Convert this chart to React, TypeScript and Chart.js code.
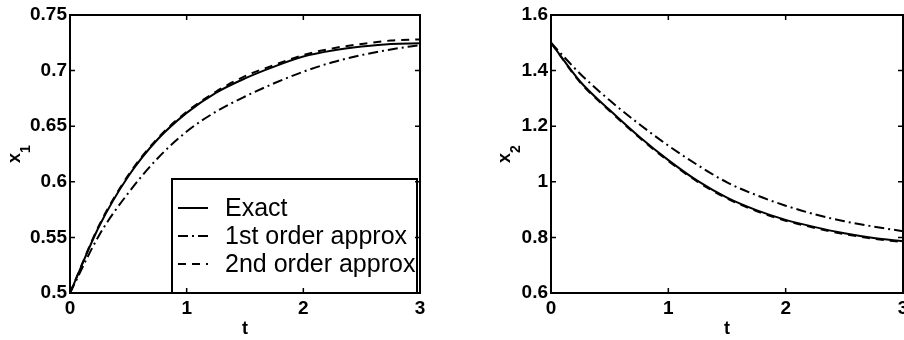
import React, { useEffect, useRef } from "react";
import { Chart, registerables } from "chart.js";
Chart.register(...registerables);

// ---- data ----
const tValues = [0, 0.25, 0.5, 0.75, 1, 1.25, 1.5, 1.75, 2, 2.25, 2.5, 2.75, 3];

const x1Exact = [0.5, 0.56, 0.605, 0.638, 0.662, 0.68, 0.693, 0.7036, 0.7126, 0.718, 0.7216, 0.724, 0.7245];
const x1First = [0.5, 0.552, 0.59, 0.621, 0.6452, 0.663, 0.6767, 0.6886, 0.699, 0.7075, 0.714, 0.719, 0.723];
const x1Second = [0.5, 0.561, 0.606, 0.639, 0.663, 0.681, 0.695, 0.705, 0.714, 0.72, 0.724, 0.727, 0.728];

const x2Exact = [1.5, 1.36, 1.258, 1.163, 1.078, 1.003, 0.943, 0.898, 0.863, 0.837, 0.815, 0.798, 0.786];
const x2First = [1.5, 1.388, 1.293, 1.208, 1.13, 1.06, 0.998, 0.952, 0.914, 0.883, 0.858, 0.839, 0.822];
const x2Second = [1.5, 1.357, 1.255, 1.16, 1.075, 1.0, 0.94, 0.895, 0.86, 0.834, 0.812, 0.795, 0.783];

const x1Ticks = [0.5, 0.55, 0.6, 0.65, 0.7, 0.75];
const x2Ticks = [0.6, 0.8, 1, 1.2, 1.4, 1.6];
const tTicks = [0, 1, 2, 3];

const seriesLabels = ["Exact", "1st order approx", "2nd order approx"];
const yTitleBase = "x";
const yTitleSubs = ["1", "2"];
const xTitle = "t";

const FONT = '"Liberation Sans", Arial, Helvetica, sans-serif';

const framePlugin = {
  id: "frame",
  afterDraw(chart: any) {
    const { ctx, chartArea, scales } = chart;
    const { left, right, top, bottom } = chartArea;
    ctx.save();
    ctx.strokeStyle = "#000";
    ctx.setLineDash([]);
    ctx.lineWidth = 1.5;
    ctx.beginPath();
    scales.x.ticks.forEach((tk: any) => {
      const px = scales.x.getPixelForValue(tk.value);
      ctx.moveTo(px, bottom);
      ctx.lineTo(px, bottom - 5);
      ctx.moveTo(px, top);
      ctx.lineTo(px, top + 5);
    });
    scales.y.ticks.forEach((tk: any) => {
      const py = scales.y.getPixelForValue(tk.value);
      ctx.moveTo(left, py);
      ctx.lineTo(left + 5, py);
      ctx.moveTo(right, py);
      ctx.lineTo(right - 5, py);
    });
    ctx.stroke();
    ctx.lineWidth = 2;
    ctx.strokeRect(left, top, right - left, bottom - top);
    ctx.restore();
  },
};

// y-axis title with a real subscript (x with index), rotated
const yTitlePlugin = {
  id: "yTitle",
  afterDraw(chart: any, _args: any, opts: any) {
    if (!opts || !opts.base) return;
    const { ctx, chartArea } = chart;
    const cx = opts.x;
    const cy = (chartArea.top + chartArea.bottom) / 2 + 4;
    ctx.save();
    ctx.translate(cx, cy);
    ctx.rotate(-Math.PI / 2);
    ctx.fillStyle = "#000";
    ctx.textBaseline = "alphabetic";
    ctx.font = "bold 18px " + FONT;
    ctx.textAlign = "center";
    ctx.fillText(opts.base, 0, 5);
    ctx.textAlign = "left";
    ctx.font = "bold 14px " + FONT;
    ctx.fillText(opts.sub, 5, 15);
    ctx.restore();
  },
};

const boxLegendPlugin = {
  id: "boxLegend",
  afterDatasetsDraw(chart: any, _args: any, opts: any) {
    if (!opts || !opts.show) return;
    const { ctx, chartArea } = chart;
    const w = 245;
    const h = 114;
    const bx = chartArea.right - 3 - w;
    const by = chartArea.bottom - h;
    ctx.save();
    ctx.fillStyle = "#fff";
    ctx.fillRect(bx, by, w, h);
    ctx.strokeStyle = "#000";
    ctx.lineWidth = 2;
    ctx.setLineDash([]);
    ctx.strokeRect(bx, by, w, h);
    ctx.font = "25px " + FONT;
    ctx.textBaseline = "middle";
    ctx.textAlign = "left";
    chart.data.datasets.forEach((ds: any, i: number) => {
      const cy = by + 29 + i * 28;
      ctx.beginPath();
      ctx.setLineDash(ds.borderDash || []);
      ctx.lineWidth = ds.borderWidth;
      ctx.strokeStyle = ds.borderColor;
      ctx.moveTo(bx + 6, cy);
      ctx.lineTo(bx + 36, cy);
      ctx.stroke();
      ctx.setLineDash([]);
      ctx.fillStyle = "#000";
      ctx.fillText(ds.label, bx + 53, cy + 1);
    });
    ctx.restore();
  },
};

function makeConfig(
  series: number[][],
  yTicks: number[],
  ySub: string,
  titleX: number,
  showLegend: boolean,
  padding: { left: number; right: number; top: number; bottom: number },
  yWidth: number
): any {
  const styles = [
    { borderDash: [] as number[] },
    { borderDash: [10, 4, 2, 4] },
    { borderDash: [8, 6] },
  ];
  const tickFont = { family: FONT, size: 19, weight: "bold" };
  return {
    type: "line",
    data: {
      datasets: series.map((vals, i) => ({
        label: seriesLabels[i],
        data: tValues.map((t, j) => ({ x: t, y: vals[j] })),
        borderColor: "#000",
        borderWidth: 2,
        borderDash: styles[i].borderDash,
        pointRadius: 0,
        fill: false,
        cubicInterpolationMode: "monotone",
      })),
    },
    options: {
      responsive: false,
      animation: false,
      layout: { padding },
      plugins: {
        legend: { display: false },
        tooltip: { enabled: false },
        boxLegend: { show: showLegend },
        yTitle: { base: yTitleBase, sub: ySub, x: titleX },
      },
      scales: {
        x: {
          type: "linear",
          min: 0,
          max: 3,
          afterBuildTicks: (scale: any) => {
            scale.ticks = tTicks.map((v) => ({ value: v }));
          },
          afterFit: (scale: any) => {
            scale.height = 47;
          },
          grid: { display: false, drawTicks: false },
          border: { display: false },
          ticks: {
            padding: 4,
            color: "#000",
            font: tickFont,
            callback: (v: any) => String(Number(Number(v).toFixed(2))),
            maxRotation: 0,
          },
          title: {
            display: true,
            text: xTitle,
            color: "#000",
            font: { family: FONT, size: 18, weight: "bold" },
            padding: { top: 0, bottom: 0 },
          },
        },
        y: {
          type: "linear",
          min: yTicks[0],
          max: yTicks[yTicks.length - 1],
          afterBuildTicks: (scale: any) => {
            scale.ticks = yTicks.map((v) => ({ value: v }));
          },
          afterFit: (scale: any) => {
            scale.width = yWidth;
          },
          grid: { display: false, drawTicks: false },
          border: { display: false },
          ticks: {
            padding: 3,
            color: "#000",
            font: tickFont,
            callback: (v: any) => String(Number(Number(v).toFixed(2))),
          },
          title: { display: false },
        },
      },
    },
    plugins: [framePlugin, boxLegendPlugin, yTitlePlugin],
  };
}

export default function App() {
  const leftRef = useRef<HTMLCanvasElement | null>(null);
  const rightRef = useRef<HTMLCanvasElement | null>(null);

  useEffect(() => {
    const c1 = new Chart(
      leftRef.current as HTMLCanvasElement,
      makeConfig([x1Exact, x1First, x1Second], x1Ticks, yTitleSubs[0], 15, true, { left: 30, right: 30, top: 15, bottom: 0 }, 40)
    );
    const c2 = new Chart(
      rightRef.current as HTMLCanvasElement,
      makeConfig([x2Exact, x2First, x2Second], x2Ticks, yTitleSubs[1], 45, false, { left: 60, right: 17, top: 15, bottom: 0 }, 31)
    );
    return () => {
      c1.destroy();
      c2.destroy();
    };
  }, []);

  return (
    <div style={{ position: "fixed", left: 0, top: 0, width: 904, height: 340, overflow: "hidden", background: "#fff" }}>
      <div style={{ position: "absolute", left: 0, top: 0, width: 450, height: 340 }}>
        <canvas ref={leftRef} width={450} height={340} style={{ display: "block" }} />
      </div>
      <div style={{ position: "absolute", left: 460, top: 0, width: 460, height: 340 }}>
        <canvas ref={rightRef} width={460} height={340} style={{ display: "block" }} />
      </div>
    </div>
  );
}
